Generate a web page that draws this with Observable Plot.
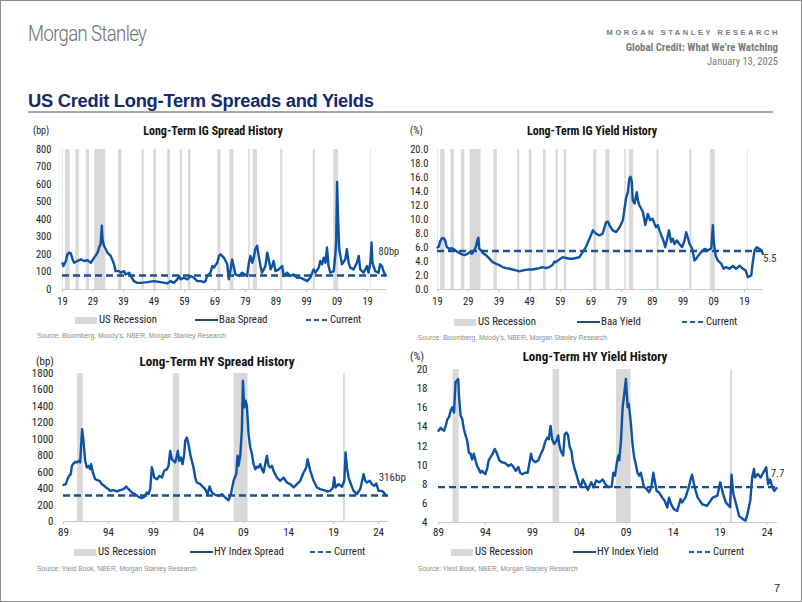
<!DOCTYPE html>
<html>
<head>
<meta charset="utf-8">
<script src="https://cdn.jsdelivr.net/npm/d3@7"></script>
<script src="https://cdn.jsdelivr.net/npm/@observablehq/plot@0.6"></script>
<style>
  html, body { margin: 0; padding: 0; background: #fff; }
  #page { position: relative; width: 802px; height: 602px; overflow: hidden; background: #fff; }
  #frame { position: absolute; left: 0; top: 0; width: 802px; height: 602px; box-sizing: border-box; border: 1px solid #8c8c8c; pointer-events: none; }
  .t { position: absolute; white-space: nowrap; line-height: 1; }
  .chart { position: absolute; }
  .chart svg { overflow: visible; }
</style>
</head>
<body>
<div id="page"><div id="frame"></div></div>
<script>
// ---------------- DATA ----------------
// Long-term IG spread (Baa spread, bp), [year, value]
const igSpread = [
  [1919.0,150],[1919.3,134],[1920.1,163],[1920.6,201],[1921.2,211],[1921.7,207],[1922.3,173],[1922.8,153],
  [1923.9,163],[1925.0,172],[1926.1,163],[1927.2,167],[1928.3,153],[1929.4,182],[1930.5,211],[1931.0,240],
  [1931.5,259],[1931.9,364],[1932.1,288],[1932.6,250],[1933.2,230],[1933.7,211],[1934.8,192],[1935.9,144],
  [1936.4,105],[1937.5,105],[1938.1,96],[1939.2,105],[1939.7,86],[1940.8,96],[1941.4,77],[1942.4,48],
  [1943.5,38],[1944.6,38],[1946.8,42],[1949.0,48],[1951.2,42],[1953.4,35],[1954.4,48],[1955.5,38],
  [1956.6,58],[1957.2,77],[1957.7,58],[1958.8,67],[1959.9,58],[1961.0,77],[1962.1,67],[1963.2,48],
  [1964.3,48],[1965.3,42],[1965.9,48],[1966.4,77],[1967.5,96],[1968.1,134],[1968.6,125],[1969.7,153],
  [1970.3,192],[1970.8,201],[1971.9,182],[1973.0,144],[1973.5,58],[1974.1,115],[1974.6,172],[1975.2,125],
  [1975.7,86],[1976.8,77],[1977.9,96],[1979.5,77],[1980.1,153],[1980.6,192],[1981.2,153],[1981.7,182],
  [1982.2,230],[1982.8,250],[1983.3,192],[1983.9,134],[1984.4,96],[1985.0,115],[1985.5,134],[1986.1,211],
  [1986.6,172],[1987.2,115],[1987.7,134],[1988.2,163],[1988.8,105],[1989.9,115],[1991.0,134],[1991.5,77],
  [1992.6,96],[1993.7,77],[1994.8,86],[1995.9,67],[1997.0,67],[1998.1,58],[1999.2,48],[2000.2,67],
  [2001.3,115],[2001.9,96],[2003.0,125],[2003.5,163],[2004.1,144],[2004.6,182],[2005.2,153],[2005.7,240],
  [2006.2,134],[2006.8,96],[2007.9,105],[2008.4,192],[2008.7,269],[2009.0,614],[2009.3,422],[2009.7,230],
  [2010.1,192],[2010.6,144],[2011.7,172],[2012.2,230],[2012.8,153],[2013.3,125],[2014.4,115],[2015.5,153],
  [2016.1,192],[2016.6,115],[2017.7,96],[2018.8,134],[2019.3,96],[2019.9,153],[2020.3,269],[2020.6,153],
  [2021.5,105],[2022.6,96],[2023.1,144],[2023.7,134],[2024.2,105],[2024.7,86],[2025.0,80]
];
// Long-term IG yield (Baa yield, %)
const igYield = [
  [1919.0,6.0],[1919.4,6.1],[1919.8,6.8],[1920.4,7.3],[1921.0,7.35],[1921.5,7.0],[1922.0,6.1],[1922.8,5.8],
  [1923.7,5.9],[1924.5,5.7],[1925.5,5.35],[1926.6,5.1],[1927.7,4.9],[1928.8,5.1],[1929.6,5.35],[1930.2,5.1],
  [1931.0,5.6],[1931.5,6.1],[1932.1,7.2],[1932.3,7.4],[1932.6,5.8],[1933.2,5.6],[1933.7,5.25],[1934.8,4.9],
  [1935.9,4.4],[1937.0,3.9],[1938.0,3.7],[1939.1,3.5],[1940.2,3.2],[1941.3,3.05],[1942.4,2.96],[1943.5,2.86],
  [1944.6,2.72],[1945.7,2.6],[1946.7,2.72],[1947.8,2.8],[1948.9,2.86],[1950.0,2.86],[1951.1,2.96],[1952.2,3.05],
  [1953.3,3.2],[1954.4,3.05],[1955.4,3.2],[1956.5,3.5],[1957.1,4.0],[1957.6,3.9],[1958.7,4.3],[1959.8,4.6],
  [1960.9,4.5],[1962.0,4.4],[1963.0,4.4],[1964.1,4.5],[1965.2,4.6],[1966.3,5.35],[1967.4,6.1],[1968.5,7.25],
  [1969.6,8.45],[1970.1,8.2],[1970.7,7.97],[1971.7,7.73],[1972.8,7.97],[1973.9,9.6],[1974.5,9.7],[1975.0,9.2],
  [1976.1,8.45],[1977.2,8.2],[1978.3,8.9],[1979.4,9.9],[1980.4,13.0],[1981.0,13.9],[1981.5,15.85],[1981.9,16.1],
  [1982.3,15.4],[1982.6,12.75],[1983.2,12.3],[1983.9,13.9],[1984.4,12.5],[1984.8,12.0],[1985.9,11.1],[1986.7,9.2],
  [1987.5,10.8],[1988.3,9.9],[1989.1,10.1],[1989.7,9.4],[1990.2,8.9],[1990.8,9.2],[1991.3,8.45],[1991.9,7.73],
  [1992.4,7.25],[1993.2,6.05],[1993.7,7.0],[1994.4,8.45],[1995.1,6.8],[1995.7,7.25],[1996.2,6.5],[1997.0,7.0],
  [1997.8,6.5],[1998.7,6.05],[1999.5,7.0],[2000.0,8.2],[2000.5,7.5],[2001.1,6.5],[2002.0,5.8],[2002.7,4.15],
  [2003.3,4.4],[2004.0,4.87],[2004.9,5.35],[2006.0,5.8],[2007.1,5.6],[2008.2,5.9],[2008.7,9.2],[2009.0,6.8],
  [2009.6,4.87],[2010.3,4.15],[2011.4,3.7],[2012.2,2.96],[2013.0,3.2],[2014.1,2.96],[2015.2,3.35],[2016.3,2.96],
  [2017.4,3.4],[2018.5,2.96],[2019.4,2.7],[2020.1,1.77],[2021.2,2.0],[2021.7,3.9],[2022.3,5.6],[2023.0,6.05],
  [2023.9,5.8],[2024.5,5.6],[2025.0,5.1]
];
// Long-term HY spread (HY index spread, bp)
const hySpread = [
  [1989.0,446],[1989.26,454],[1989.44,515],[1989.63,555],[1989.81,576],[1989.93,677],[1990.11,705],[1990.3,726],
  [1990.48,718],[1990.67,738],[1990.85,718],[1990.96,940],[1991.07,1123],[1991.22,981],[1991.41,738],[1991.59,657],
  [1991.78,677],[1991.96,636],[1992.07,697],[1992.26,596],[1992.52,515],[1992.78,503],[1993.0,495],[1993.26,454],
  [1993.52,434],[1993.74,414],[1994.0,393],[1994.19,373],[1994.56,381],[1994.93,365],[1995.3,381],[1995.67,393],
  [1995.96,426],[1996.22,393],[1996.59,353],[1996.96,332],[1997.33,300],[1997.7,284],[1997.96,300],[1998.26,353],
  [1998.44,332],[1998.63,393],[1998.81,660],[1998.93,616],[1999.07,535],[1999.37,515],[1999.67,555],[1999.93,535],
  [2000.19,616],[2000.48,636],[2000.67,677],[2000.85,859],[2001.04,758],[2001.22,738],[2001.41,718],[2001.59,799],
  [2001.7,859],[2001.85,738],[2002.04,778],[2002.22,697],[2002.41,819],[2002.52,981],[2002.7,1022],[2002.89,940],
  [2003.07,819],[2003.26,738],[2003.44,657],[2003.63,535],[2003.81,474],[2004.19,454],[2004.48,422],[2004.74,393],
  [2005.0,332],[2005.22,426],[2005.48,353],[2005.85,324],[2006.22,312],[2006.59,332],[2006.96,292],[2007.33,259],
  [2007.59,332],[2007.89,495],[2008.19,576],[2008.33,799],[2008.44,677],[2008.63,799],[2008.81,1103],[2008.93,1711],
  [2009.07,1386],[2009.22,1468],[2009.37,1407],[2009.56,1062],[2009.74,900],[2009.93,819],[2010.11,697],[2010.3,636],
  [2010.48,665],[2010.67,657],[2010.85,697],[2011.04,636],[2011.22,596],[2011.59,799],[2011.78,677],[2011.96,657],
  [2012.15,677],[2012.33,616],[2012.7,535],[2013.07,495],[2013.44,535],[2013.81,474],[2014.19,454],[2014.56,414],
  [2014.93,454],[2015.3,495],[2015.67,596],[2015.96,657],[2016.11,758],[2016.41,616],[2016.78,495],[2017.15,414],
  [2017.52,393],[2017.89,381],[2018.26,365],[2018.63,373],[2018.93,414],[2019.07,535],[2019.22,414],[2019.56,454],
  [2019.93,422],[2020.19,495],[2020.33,839],[2020.48,657],[2020.67,535],[2020.85,474],[2021.22,373],[2021.59,332],
  [2021.96,393],[2022.33,576],[2022.52,495],[2022.7,474],[2023.0,495],[2023.26,454],[2023.52,434],[2023.74,462],
  [2024.0,373],[2024.37,373],[2024.56,353],[2024.85,316]
];
// Long-term HY yield (HY index yield, %)
const hyYield = [
  [1989.0,13.6],[1989.24,13.9],[1989.42,13.7],[1989.59,13.6],[1989.77,14.1],[1989.94,14.8],[1990.12,15.0],[1990.3,15.7],
  [1990.47,16.05],[1990.65,15.5],[1990.82,18.7],[1991.0,18.9],[1991.1,19.0],[1991.18,17.3],[1991.35,15.2],[1991.53,14.8],
  [1991.7,13.8],[1991.88,13.1],[1992.06,12.55],[1992.23,11.3],[1992.41,11.2],[1992.58,10.6],[1992.76,11.2],[1992.94,10.5],
  [1993.11,9.9],[1993.29,9.6],[1993.46,9.2],[1993.64,9.4],[1993.82,9.2],[1993.99,9.05],[1994.17,9.6],[1994.35,10.5],
  [1994.52,10.8],[1994.77,11.2],[1994.98,11.7],[1995.23,11.2],[1995.47,10.5],[1995.75,10.3],[1996.11,10.2],[1996.46,9.9],
  [1996.74,10.1],[1996.99,9.8],[1997.23,9.4],[1997.51,9.8],[1997.69,9.2],[1997.94,9.05],[1998.22,9.2],[1998.5,9.2],
  [1998.75,10.6],[1998.85,11.2],[1998.99,10.6],[1999.27,10.3],[1999.63,10.5],[1999.91,11.2],[2000.15,11.7],[2000.4,12.55],
  [2000.61,12.9],[2000.75,12.7],[2000.93,14.1],[2001.11,12.7],[2001.32,12.2],[2001.56,12.55],[2001.74,13.1],[2001.85,12.2],
  [2002.02,11.5],[2002.27,11.0],[2002.44,13.25],[2002.62,13.4],[2002.8,13.1],[2002.97,11.9],[2003.15,11.5],[2003.32,10.3],
  [2003.5,9.6],[2003.68,9.05],[2003.92,8.2],[2004.13,7.7],[2004.38,8.5],[2004.63,8.0],[2004.91,7.4],[2005.26,8.2],
  [2005.54,7.7],[2005.79,8.4],[2006.14,8.2],[2006.49,8.5],[2006.85,7.85],[2007.2,7.7],[2007.44,7.75],[2007.62,9.2],
  [2007.8,8.9],[2008.0,10.3],[2008.15,11.0],[2008.25,10.5],[2008.43,12.55],[2008.61,16.05],[2008.96,19.0],[2009.14,16.05],
  [2009.27,16.4],[2009.49,14.3],[2009.66,12.2],[2009.84,10.8],[2010.01,10.1],[2010.19,9.2],[2010.37,8.9],[2010.54,9.2],
  [2010.72,8.4],[2010.89,7.7],[2011.18,7.5],[2011.42,7.15],[2011.67,7.7],[2011.88,9.2],[2012.02,8.4],[2012.23,7.3],
  [2012.48,7.15],[2012.83,6.6],[2013.08,6.27],[2013.36,5.57],[2013.54,6.6],[2013.78,5.9],[2014.06,5.4],[2014.42,5.2],
  [2014.77,6.45],[2014.94,6.1],[2015.3,6.6],[2015.65,7.7],[2015.82,8.4],[2016.0,9.0],[2016.3,7.6],[2016.6,6.6],
  [2017.1,5.9],[2017.6,5.75],[2018.2,6.6],[2018.7,6.8],[2019.0,8.2],[2019.3,7.0],[2019.6,6.1],[2020.05,5.6],
  [2020.2,9.0],[2020.4,7.0],[2020.7,5.9],[2021.0,4.7],[2021.4,4.35],[2021.7,4.2],[2021.9,4.9],[2022.2,6.27],
  [2022.4,8.7],[2022.6,9.6],[2022.7,8.7],[2023.0,9.07],[2023.3,8.7],[2023.5,9.07],[2023.9,9.77],[2024.1,8.0],
  [2024.3,8.5],[2024.6,7.6],[2024.75,7.3],[2025.0,7.6]
];
// US recessions (NBER), [start, end]
const recessionsLong = [
  [1918.7,1919.2],[1920.0,1921.5],[1923.4,1924.5],[1926.8,1927.9],[1929.6,1933.2],[1937.4,1938.5],
  [1945.1,1945.8],[1948.9,1949.8],[1953.5,1954.4],[1957.6,1958.3],[1960.3,1961.1],[1969.9,1970.9],
  [1973.9,1975.2],[1980.0,1980.5],[1981.5,1982.9],[1990.5,1991.2],[2001.2,2001.9],[2007.9,2009.5],[2020.1,2020.3]
];
const recessionsHY = [[1990.55,1991.2],[2001.2,2001.9],[2007.95,2009.5],[2020.1,2020.3]];
// Current levels
const igSpreadCurrent = 80, igYieldCurrent = 5.5, hySpreadCurrent = 316, hyYieldCurrent = 7.7;
// Tick values
const longXTicks = [1919,1929,1939,1949,1959,1969,1979,1989,1999,2009,2019];
const hyXTicks = [1989,1994,1999,2004,2009,2014,2019,2024];
const igSpreadTicks = [0,100,200,300,400,500,600,700,800];
const igYieldTicks = [0,2,4,6,8,10,12,14,16,18,20];
const hySpreadTicks = [0,200,400,600,800,1000,1200,1400,1600,1800];
const hyYieldTicks = [4,6,8,10,12,14,16,18,20];

// ---------------- STYLE ----------------
const NARROW = "'Liberation Sans Narrow','Arial Narrow','Roboto Condensed',Roboto,sans-serif";
const ARIAL = "'Liberation Sans',Arial,sans-serif";
const LINE = "#0d52a5";
const DASH = "#1c4f93";
const page = document.getElementById("page");

function put(text, x, y, style = {}, align = "left", extra = "") {
  const el = document.createElement("div");
  el.className = "t";
  el.textContent = text;
  Object.assign(el.style, {fontFamily: NARROW, fontSize: "10px", color: "#222"}, style);
  el.style.left = x + "px";
  el.style.top = y + "px";
  const tx = align === "center" ? "-50%" : align === "right" ? "-100%" : "0";
  el.style.transformOrigin = "left center";
  el.style.transform = `translate(${tx}, -50%) ${extra}`;
  page.appendChild(el);
  return el;
}
function box(x, y, w, h, style) {
  const el = document.createElement("div");
  el.style.position = "absolute";
  el.style.left = x + "px"; el.style.top = y + "px";
  el.style.width = w + "px"; el.style.height = h + "px";
  Object.assign(el.style, style);
  page.appendChild(el);
  return el;
}

function panel(o) {
  const fmtYear = d => String(d % 100).padStart(2, "0");
  const last = o.series[o.series.length - 1];
  return Plot.plot({
    width: o.width, height: o.height,
    marginLeft: o.mL, marginRight: o.mR, marginTop: o.mT, marginBottom: o.mB,
    style: {fontFamily: NARROW, fontSize: o.fs + "px", color: "#222", background: "transparent", overflow: "visible"},
    x: {domain: o.xDomain},
    y: {domain: o.yDomain},
    marks: [
      Plot.rect(o.recessions, {x1: d => d[0], x2: d => d[1], fill: "#d9d9d9", clip: true}),
      Plot.ruleY([o.yDomain[0]], {stroke: "#c8c8c8"}),
      Plot.ruleY([o.current], {stroke: DASH, strokeWidth: 2.3, strokeDasharray: "7,4"}),
      Plot.line(o.series, {x: d => d[0], y: d => d[1], stroke: LINE, strokeWidth: 2.4, strokeLinejoin: "round"}),
      Plot.text([last], {x: d => d[0], y: () => o.current, text: () => o.label, dx: o.ldx, dy: o.ldy,
        textAnchor: "middle", fontSize: o.fs, fill: "#333"}),
      Plot.axisX({ticks: o.xTicks, tickFormat: fmtYear, tickSize: 3, tickPadding: o.xpad, stroke: "#c8c8c8", fill: "#222", fontSize: o.fs}),
      Plot.axisY({ticks: o.yTicks, tickFormat: o.yFmt, tickSize: 0, tickPadding: o.ypad, fill: "#222", fontSize: o.fs})
    ]
  });
}
function mount(svg, x, y) {
  const d = document.createElement("div");
  d.className = "chart";
  d.style.left = x + "px"; d.style.top = y + "px";
  d.appendChild(svg);
  page.appendChild(d);
}

// ---------------- HEADER ----------------
put("Morgan Stanley", 28, 34, {fontFamily: "Roboto, 'Liberation Sans', sans-serif", fontWeight: "300", fontSize: "21.5px", color: "#6f6f6f", letterSpacing: "-0.7px"}, "left", "scaleX(0.86)");
put("MORGAN STANLEY RESEARCH", 780, 33, {fontFamily: ARIAL, fontWeight: "bold", fontSize: "7.5px", color: "#7a7a7a", letterSpacing: "2.55px"}, "right");
put("Global Credit: What We\u2019re Watching", 778, 48, {fontFamily: NARROW, fontWeight: "bold", fontSize: "10.8px", color: "#7a7a7a"}, "right");
put("January 13, 2025", 778, 62, {fontFamily: NARROW, fontSize: "10.5px", color: "#7a7a7a"}, "right");
put("US Credit Long-Term Spreads and Yields", 28, 101, {fontFamily: ARIAL, fontWeight: "bold", fontSize: "18.3px", color: "#13296b", letterSpacing: "-0.25px"});
box(28, 111, 745, 2, {background: "#a8a8a8"});

// ---------------- PANELS ----------------
mount(panel({series: igSpread, recessions: recessionsLong, current: igSpreadCurrent, label: igSpreadCurrent + "bp",
  xDomain: [1919, 2025.2], yDomain: [0, 800], xTicks: longXTicks, yTicks: igSpreadTicks, yFmt: d => String(d),
  width: 400, height: 171, mL: 62, mR: 14, mT: 9, mB: 22, fs: 10.5, xpad: 5, ypad: 11, ldx: 3, ldy: -24}), 0, 140);
mount(panel({series: igYield, recessions: recessionsLong, current: igYieldCurrent, label: igYieldCurrent.toFixed(1),
  xDomain: [1919, 2025.2], yDomain: [0, 20], xTicks: longXTicks, yTicks: igYieldTicks, yFmt: d => d.toFixed(1),
  width: 402, height: 171, mL: 37, mR: 39, mT: 9, mB: 22, fs: 10.5, xpad: 5, ypad: 9, ldx: 7, ldy: 8}), 400, 140);
mount(panel({series: hySpread, recessions: recessionsHY, current: hySpreadCurrent, label: hySpreadCurrent + "bp",
  xDomain: [1989, 2025.1], yDomain: [0, 1800], xTicks: hyXTicks, yTicks: hySpreadTicks, yFmt: d => String(d),
  width: 402, height: 178, mL: 63, mR: 14, mT: 8, mB: 22, fs: 11, xpad: 4, ypad: 10, ldx: 6, ldy: -18}), 0, 365);
mount(panel({series: hyYield, recessions: recessionsHY, current: hyYieldCurrent, label: hyYieldCurrent.toFixed(1),
  xDomain: [1989, 2025.1], yDomain: [4, 20], xTicks: hyXTicks, yTicks: hyYieldTicks, yFmt: d => String(d),
  width: 402, height: 184, mL: 38, mR: 25, mT: 9, mB: 22, fs: 11, xpad: 3, ypad: 11, ldx: 1, ldy: -14}), 400, 360);

// Panel titles and units
const TITLE = {fontFamily: NARROW, fontWeight: "bold", color: "#111"};
put("Long-Term IG Spread History", 213, 131, {...TITLE, fontSize: "12px"}, "center");
put("Long-Term IG Yield History", 592, 131, {...TITLE, fontSize: "12px"}, "center");
put("Long-Term HY Spread History", 217, 361, {...TITLE, fontSize: "13px"}, "center");
put("Long-Term HY Yield History", 595, 356, {...TITLE, fontSize: "13px"}, "center");
put("(bp)", 33, 131, {fontSize: "10px"});
put("(%)", 410, 131, {fontSize: "10px"});
put("(bp)", 36, 361, {fontSize: "11px"});
put("(%)", 410, 356, {fontSize: "11px"});

// ---------------- LEGENDS ----------------
function legendRow(y, recX, lineX, dashX, lineText) {
  box(recX, y - 3.5, 22, 7, {background: "#d9d9d9"});
  put("US Recession", recX + 24, y, {fontSize: "10.8px"});
  box(lineX, y - 1, 23, 2, {background: "#1f4e79"});
  put(lineText, lineX + 24, y, {fontSize: "10.8px"});
  box(dashX, y - 1, 21, 2, {background: "repeating-linear-gradient(90deg, #2e5c9e 0 5px, transparent 5px 8px)"});
  put("Current", dashX + 24, y, {fontSize: "10.8px"});
}
legendRow(320, 75, 195, 306, "Baa Spread");
legendRow(322, 454, 577, 682, "Baa Yield");
legendRow(552, 74, 190, 310, "HY Index Spread");
legendRow(552, 451, 573, 689, "HY Index Yield");

// ---------------- SOURCES ----------------
const SRC = {fontFamily: ARIAL, fontSize: "6.7px", color: "#8a8a8a"};
put("Source: Bloomberg, Moody\u2019s, NBER, Morgan Stanley Research", 37, 336, SRC);
put("Source: Bloomberg, Moody\u2019s, NBER, Morgan Stanley Research", 418, 338, SRC);
put("Source: Yield Book, NBER, Morgan Stanley Research", 37, 569, SRC);
put("Source: Yield Book, NBER, Morgan Stanley Research", 418, 569, SRC);
put("7", 780, 588, {fontFamily: ARIAL, fontSize: "11px", color: "#222"}, "right");
</script>
</body>
</html>
